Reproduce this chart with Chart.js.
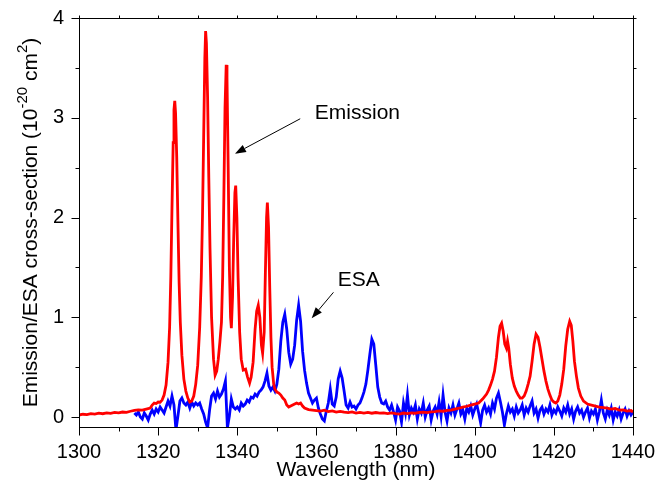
<!DOCTYPE html>
<html>
<head>
<meta charset="utf-8">
<title>Emission / ESA cross-section</title>
<script src="https://cdn.jsdelivr.net/npm/chart.js@4.4.1/dist/chart.umd.min.js"></script>
<style>
  html, body { margin: 0; padding: 0; background: #fff; }
  #wrap { width: 672px; height: 493px; }
</style>
</head>
<body>
<div id="wrap"><canvas id="spectraChart" width="672" height="493"></canvas></div>
<script>
// axis ticks
var xMajorTicks = [1300, 1320, 1340, 1360, 1380, 1400, 1420, 1440];
var xMinorTicks = [1310, 1330, 1350, 1370, 1390, 1410, 1430];
var yMajorTicks = [0, 1, 2, 3, 4];
var yMinorTicks = [0.5, 1.5, 2.5, 3.5];

// emission cross-section (red)
var emissionWavelength = [
  1300, 1301, 1302, 1303, 1304, 1305, 1306, 1307, 1308, 1309, 1310, 1311, 1312, 1313, 1314, 1315, 1316, 1317, 1318, 1318.5,
  1319, 1319.5, 1320, 1320.5, 1321, 1321.5, 1322, 1322.5, 1322.9, 1323.2, 1323.5, 1323.8, 1324, 1324.2, 1324.4, 1324.7, 1325, 1325.3, 1325.6, 1326,
  1326.5, 1327, 1327.5, 1328, 1328.5, 1329, 1329.5, 1330, 1330.5, 1330.9, 1331.2, 1331.5, 1331.8, 1332, 1332.2, 1332.5, 1332.8, 1333.1, 1333.5, 1334,
  1334.4, 1334.8, 1335.2, 1335.6, 1336, 1336.3, 1336.6, 1336.9, 1337.2, 1337.4, 1337.7, 1338, 1338.3, 1338.5, 1338.8, 1339.1, 1339.4, 1339.6, 1339.9, 1340.2,
  1340.6, 1341, 1341.5, 1342.1, 1342.6, 1343.1, 1343.5, 1344, 1344.5, 1344.9, 1345.3, 1345.7, 1346.1, 1346.4, 1346.8, 1347.1, 1347.4, 1347.6, 1347.9, 1348.2,
  1348.5, 1348.8, 1349.2, 1349.5, 1350, 1350.5, 1351, 1351.5, 1352, 1352.5, 1353, 1353.5, 1354, 1354.5, 1355, 1355.5, 1356, 1356.5, 1357, 1358,
  1359, 1360, 1361, 1362, 1363, 1364, 1365, 1366, 1367, 1368, 1369, 1370, 1371, 1372, 1373, 1374, 1375, 1376, 1377, 1378,
  1379, 1380, 1381, 1382, 1383, 1384, 1385, 1386, 1387, 1388, 1389, 1390, 1391, 1392, 1393, 1394, 1395, 1396, 1397, 1398,
  1399, 1400, 1401, 1402, 1403, 1403.5, 1404, 1404.5, 1405, 1405.5, 1406, 1406.4, 1406.8, 1407.2, 1407.6, 1408, 1408.3, 1408.6, 1409, 1409.5,
  1410, 1410.5, 1411, 1411.5, 1412, 1412.5, 1413, 1413.5, 1414, 1414.5, 1415, 1415.5, 1416, 1416.5, 1417, 1417.5, 1418, 1418.5, 1419, 1419.5,
  1420, 1420.5, 1421, 1421.5, 1422, 1422.5, 1423, 1423.5, 1424, 1424.4, 1424.8, 1425.2, 1425.7, 1426.2, 1426.8, 1427.5, 1428.5, 1429.5, 1430.5, 1431.5,
  1432.5, 1433.5, 1434.5, 1435.5, 1436.5, 1437.5, 1438.5, 1439.5, 1440
];
var emissionValue = [
  0.02, 0.028, 0.025, 0.034, 0.03, 0.038, 0.033, 0.042, 0.037, 0.046, 0.041, 0.05, 0.047, 0.058, 0.066, 0.072, 0.07, 0.08, 0.09, 0.12,
  0.14, 0.135, 0.15, 0.148, 0.17, 0.22, 0.32, 0.55, 0.9, 1.4, 2.1, 2.75, 3.08, 3.17, 3.05, 2.6, 1.95, 1.35, 0.95, 0.62,
  0.38, 0.26, 0.19, 0.15, 0.16, 0.21, 0.33, 0.52, 0.9, 1.4, 2.0, 2.8, 3.6, 3.87, 3.75, 3.2, 2.4, 1.7, 1.0, 0.58,
  0.42, 0.46, 0.58, 0.75, 0.95, 1.4, 2.2, 3.1, 3.53, 3.4, 2.5, 1.5, 1.0, 0.89, 1.2, 1.8, 2.25, 2.32, 2.0, 1.4,
  0.85, 0.58, 0.47, 0.48, 0.4, 0.34, 0.4, 0.55, 0.88, 1.06, 1.12, 1.0, 0.72, 0.64, 0.85, 1.45, 2.0, 2.15, 1.9, 1.3,
  0.8, 0.5, 0.33, 0.28, 0.25, 0.24, 0.22, 0.19, 0.17, 0.12, 0.1, 0.11, 0.12, 0.13, 0.14, 0.13, 0.14, 0.11, 0.09, 0.075,
  0.07, 0.065, 0.06, 0.068, 0.055, 0.062, 0.05, 0.057, 0.048, 0.045, 0.052, 0.04, 0.047, 0.04, 0.046, 0.038, 0.045, 0.04, 0.042, 0.035,
  0.041, 0.033, 0.03, 0.04, 0.035, 0.042, 0.038, 0.046, 0.05, 0.044, 0.052, 0.055, 0.062, 0.058, 0.066, 0.07, 0.08, 0.088, 0.1, 0.108,
  0.12, 0.13, 0.14, 0.18, 0.23, 0.27, 0.32, 0.38, 0.46, 0.6, 0.8, 0.91, 0.94, 0.86, 0.73, 0.69, 0.76, 0.69, 0.53, 0.39,
  0.31, 0.26, 0.22, 0.19, 0.19, 0.21, 0.26, 0.33, 0.41, 0.56, 0.73, 0.83, 0.8, 0.7, 0.58, 0.46, 0.36, 0.28, 0.22, 0.17,
  0.15, 0.14, 0.16, 0.22, 0.33, 0.48, 0.71, 0.88, 0.96, 0.92, 0.76, 0.56, 0.41, 0.29, 0.21, 0.16, 0.13, 0.12, 0.11, 0.1,
  0.095, 0.09, 0.08, 0.085, 0.07, 0.072, 0.06, 0.065, 0.05
];

// excited-state absorption cross-section (blue)
var esaWavelength = [
  1314, 1314.5, 1315, 1315.5, 1316, 1316.5, 1317, 1317.5, 1318, 1318.5, 1319, 1319.5, 1320, 1320.5, 1321, 1321.5, 1322, 1322.5, 1323, 1323.5,
  1324, 1324.5, 1325, 1325.5, 1326, 1326.5, 1327, 1327.5, 1328, 1328.5, 1329, 1329.5, 1330, 1330.5, 1331, 1331.5, 1332, 1332.5, 1333, 1333.5,
  1334, 1334.5, 1335, 1335.5, 1336, 1336.5, 1337, 1337.5, 1338, 1338.5, 1339, 1339.5, 1340, 1340.5, 1341, 1341.5, 1342, 1342.5, 1343, 1343.5,
  1344, 1344.5, 1345, 1345.5, 1346, 1346.5, 1347, 1347.5, 1348, 1348.5, 1349, 1349.5, 1350, 1350.5, 1351, 1351.5, 1352, 1352.5, 1353, 1353.5,
  1354, 1354.5, 1355, 1355.5, 1356, 1356.5, 1357, 1357.5, 1358, 1358.5, 1359, 1359.5, 1360, 1360.5, 1361, 1361.5, 1362, 1362.5, 1363, 1363.5,
  1364, 1364.5, 1365, 1365.5, 1366, 1366.5, 1367, 1367.5, 1368, 1368.5, 1369, 1369.5, 1370, 1370.5, 1371, 1371.5, 1372, 1372.5, 1373, 1373.5,
  1374, 1374.5, 1375, 1375.5, 1376, 1376.5, 1377, 1377.5, 1378, 1378.5, 1379, 1379.5, 1380, 1380.5, 1381, 1381.5, 1382, 1382.5, 1383, 1383.5,
  1384, 1384.5, 1385, 1385.5, 1386, 1386.5, 1387, 1387.5, 1388, 1388.5, 1389, 1389.5, 1390, 1390.5, 1391, 1391.5, 1392, 1392.5, 1393, 1393.5,
  1394, 1394.5, 1395, 1395.5, 1396, 1396.5, 1397, 1397.5, 1398, 1398.5, 1399, 1399.5, 1400, 1400.5, 1401, 1401.5, 1402, 1402.5, 1403, 1403.5,
  1404, 1404.5, 1405, 1405.5, 1406, 1406.5, 1407, 1407.5, 1408, 1408.5, 1409, 1409.5, 1410, 1410.5, 1411, 1411.5, 1412, 1412.5, 1413, 1413.5,
  1414, 1414.5, 1415, 1415.5, 1416, 1416.5, 1417, 1417.5, 1418, 1418.5, 1419, 1419.5, 1420, 1420.5, 1421, 1421.5, 1422, 1422.5, 1423, 1423.5,
  1424, 1424.5, 1425, 1425.5, 1426, 1426.5, 1427, 1427.5, 1428, 1428.5, 1429, 1429.5, 1430, 1430.5, 1431, 1431.5, 1432, 1432.5, 1433, 1433.5,
  1434, 1434.5, 1435, 1435.5, 1436, 1436.5, 1437, 1437.5, 1438, 1438.5, 1439, 1439.5, 1440
];
var esaValue = [
  0.04, 0.02, 0.05, 0.0, -0.02, 0.04, 0.01, -0.03, 0.03, 0.07, 0.03, 0.08, 0.05, 0.1, 0.07, 0.04, 0.1, 0.16, 0.11, 0.21,
  0.12, -0.13, 0.01, 0.16, 0.19, 0.14, 0.12, 0.15, 0.09, 0.15, 0.11, 0.14, 0.12, 0.14, 0.08, 0.03, -0.05, -0.11, 0.07, 0.21,
  0.24, 0.18, 0.26, 0.2, 0.23, 0.28, 0.36, -0.11, 0.01, 0.18, 0.1, 0.08, 0.1, 0.07, 0.14, 0.11, 0.13, 0.17, 0.15, 0.2,
  0.19, 0.23, 0.21, 0.25, 0.27, 0.3, 0.36, 0.44, 0.31, 0.27, 0.3, 0.26, 0.33, 0.48, 0.76, 0.95, 1.03, 0.88, 0.65, 0.53,
  0.58, 0.72, 0.97, 1.12, 0.96, 0.66, 0.47, 0.34, 0.24, 0.19, 0.14, 0.17, 0.19, 0.09, 0.03, -0.02, -0.04, 0.06, 0.14, 0.28,
  0.13, 0.11, 0.2, 0.38, 0.46, 0.39, 0.26, 0.12, 0.09, 0.15, 0.1, 0.11, 0.08, 0.12, 0.14, 0.19, 0.25, 0.33, 0.47, 0.63,
  0.78, 0.73, 0.52, 0.3, 0.2, 0.14, 0.13, 0.16, 0.1, 0.07, 0.12, 0.05, -0.03, 0.1, 0.06, -0.05, 0.14, 0.04, 0.22, 0.02,
  0.09, 0.05, 0.12, -0.02, 0.08, 0.04, 0.14, 0.0, 0.07, 0.11, -0.03, 0.06, 0.1, 0.03, 0.15, 0.01, 0.22, 0.05, -0.04, 0.09,
  0.04, 0.12, 0.02, 0.08, 0.14, 0.03, 0.07, -0.02, 0.09, 0.05, 0.11, 0.02, 0.08, 0.13, 0.04, -0.06, 0.07, 0.12, 0.05, 0.09,
  0.03, 0.14, 0.08, 0.19, 0.24, 0.15, 0.05, -0.08, 0.03, 0.11, 0.05, 0.08, 0.01, 0.1, 0.04, 0.07, 0.12, 0.02, 0.09, 0.05,
  0.11, 0.16, 0.04, 0.08, -0.01, 0.07, 0.1, 0.03, 0.08, 0.05, 0.12, 0.02, 0.07, 0.04, 0.1, 0.06, 0.01, 0.09, 0.05, 0.12,
  0.03, 0.08, -0.02, 0.06, 0.1, 0.04, 0.07, 0.0, 0.05, 0.09, -0.01, 0.06, 0.03, 0.08, -0.03, 0.05, 0.17, 0.04, -0.02, 0.07,
  0.02, 0.09, -0.03, 0.05, 0.01, 0.07, -0.02, 0.04, 0.08, 0.01, 0.06, 0.02, 0.05
];

var fontName = "'Liberation Sans', Arial, sans-serif";

// text labels with arrows, in data units
var notes = [
  { text: 'Emission', tx: 1359.6, ty: 3.05, from: [1355.9, 2.99], to: [1339.4, 2.64] },
  { text: 'ESA', tx: 1365.4, ty: 1.37, from: [1364.3, 1.25], to: [1358.8, 0.99] }
];

function toPoints(xs, ys) {
  return xs.map(function (x, i) { return { x: x, y: ys[i] }; });
}

var framePlugin = {
  id: 'frame',
  afterDraw: function (chart) {
    var ctx = chart.ctx, a = chart.chartArea;
    var xs = chart.scales.x, ys = chart.scales.y;
    ctx.save();
    ctx.strokeStyle = '#000';
    ctx.lineWidth = 1;
    var L = Math.round(a.left) + 0.5, R = Math.round(a.right) + 0.5;
    var T = Math.round(a.top) + 0.5, B = Math.round(a.bottom) + 0.5;
    ctx.strokeRect(L, T, R - L, B - T);
    ctx.beginPath();
    function xTick(v, len, lenTop) {
      var px = Math.round(xs.getPixelForValue(v)) + 0.5;
      ctx.moveTo(px, B); ctx.lineTo(px, B + len);
      ctx.moveTo(px, T); ctx.lineTo(px, T - lenTop);
    }
    function yTick(v, len, lenRight) {
      var py = Math.round(ys.getPixelForValue(v)) + 0.5;
      ctx.moveTo(L, py); ctx.lineTo(L - len, py);
      ctx.moveTo(R, py); ctx.lineTo(R + lenRight, py);
    }
    xMajorTicks.forEach(function (v) { xTick(v, 8, 3); });
    xMinorTicks.forEach(function (v) { xTick(v, 4, 3); });
    yMajorTicks.forEach(function (v) { yTick(v, 8, 3); });
    yMinorTicks.forEach(function (v) { yTick(v, 4, 3); });
    ctx.stroke();

    // y axis title with superscripts
    var parts = [
      ['Emission/ESA cross-section (10', false],
      ['-20', true],
      [' cm', false],
      ['2', true],
      [')', false]
    ];
    var big = '21px ' + fontName, small = '15px ' + fontName;
    var total = 0;
    parts.forEach(function (p) { ctx.font = p[1] ? small : big; total += ctx.measureText(p[0]).width; });
    ctx.translate(31, (a.top + a.bottom) / 2);
    ctx.rotate(-Math.PI / 2);
    ctx.fillStyle = '#000';
    ctx.textBaseline = 'middle';
    ctx.textAlign = 'left';
    var cx = -total / 2;
    parts.forEach(function (p) {
      ctx.font = p[1] ? small : big;
      ctx.fillText(p[0], cx, p[1] ? -8 : 0);
      cx += ctx.measureText(p[0]).width;
    });
    ctx.restore();

    // annotations
    ctx.save();
    ctx.fillStyle = '#000';
    ctx.strokeStyle = '#000';
    ctx.lineWidth = 1;
    ctx.font = '21px ' + fontName;
    ctx.textBaseline = 'middle';
    ctx.textAlign = 'left';
    notes.forEach(function (n) {
      ctx.fillText(n.text, xs.getPixelForValue(n.tx), ys.getPixelForValue(n.ty));
      var x1 = xs.getPixelForValue(n.from[0]), y1 = ys.getPixelForValue(n.from[1]);
      var x2 = xs.getPixelForValue(n.to[0]), y2 = ys.getPixelForValue(n.to[1]);
      var ang = Math.atan2(y2 - y1, x2 - x1);
      var hl = 11, hw = 4;
      var bx = x2 - hl * Math.cos(ang), by = y2 - hl * Math.sin(ang);
      ctx.beginPath();
      ctx.moveTo(x1, y1); ctx.lineTo(bx, by);
      ctx.stroke();
      ctx.beginPath();
      ctx.moveTo(x2, y2);
      ctx.lineTo(bx + hw * Math.sin(ang), by - hw * Math.cos(ang));
      ctx.lineTo(bx - hw * Math.sin(ang), by + hw * Math.cos(ang));
      ctx.closePath();
      ctx.fill();
    });
    ctx.restore();
  }
};

new Chart(document.getElementById('spectraChart'), {
  type: 'line',
  data: {
    datasets: [
      {
        label: 'Emission',
        data: toPoints(emissionWavelength, emissionValue),
        borderColor: '#ff0000',
        borderWidth: 2.8,
        pointRadius: 0,
        tension: 0,
        fill: false,
        order: 0
      },
      {
        label: 'ESA',
        data: toPoints(esaWavelength, esaValue),
        borderColor: '#0000ff',
        borderWidth: 2.8,
        pointRadius: 0,
        tension: 0,
        fill: false,
        order: 1
      }
    ]
  },
  options: {
    responsive: false,
    animation: false,
    layout: { padding: { left: 0, right: 39, top: 18, bottom: 0 } },
    plugins: { legend: { display: false }, tooltip: { enabled: false } },
    scales: {
      x: {
        type: 'linear',
        min: 1300,
        max: 1440,
        afterBuildTicks: function (s) { s.ticks = xMajorTicks.map(function (v) { return { value: v }; }); },
        afterFit: function (s) { s.height = 66; s.paddingLeft = 0; s.paddingRight = 0; },
        grid: { display: false, drawTicks: false },
        border: { display: false },
        ticks: { color: '#000', font: { family: fontName, size: 20 }, padding: 13, maxRotation: 0,
                 callback: function (v) { return String(v); } },
        title: { display: true, text: 'Wavelength (nm)', color: '#000', font: { family: fontName, size: 21 }, padding: { top: 0, bottom: 10 } }
      },
      y: {
        min: -0.1,
        max: 4,
        afterBuildTicks: function (s) { s.ticks = yMajorTicks.map(function (v) { return { value: v }; }); },
        afterFit: function (s) { s.width = 79; s.paddingTop = 0; s.paddingBottom = 0; },
        grid: { display: false, drawTicks: false },
        border: { display: false },
        ticks: { color: '#000', font: { family: fontName, size: 20 }, padding: 15,
                 callback: function (v) { return String(v); } }
      }
    }
  },
  plugins: [framePlugin]
});
</script>
</body>
</html>
